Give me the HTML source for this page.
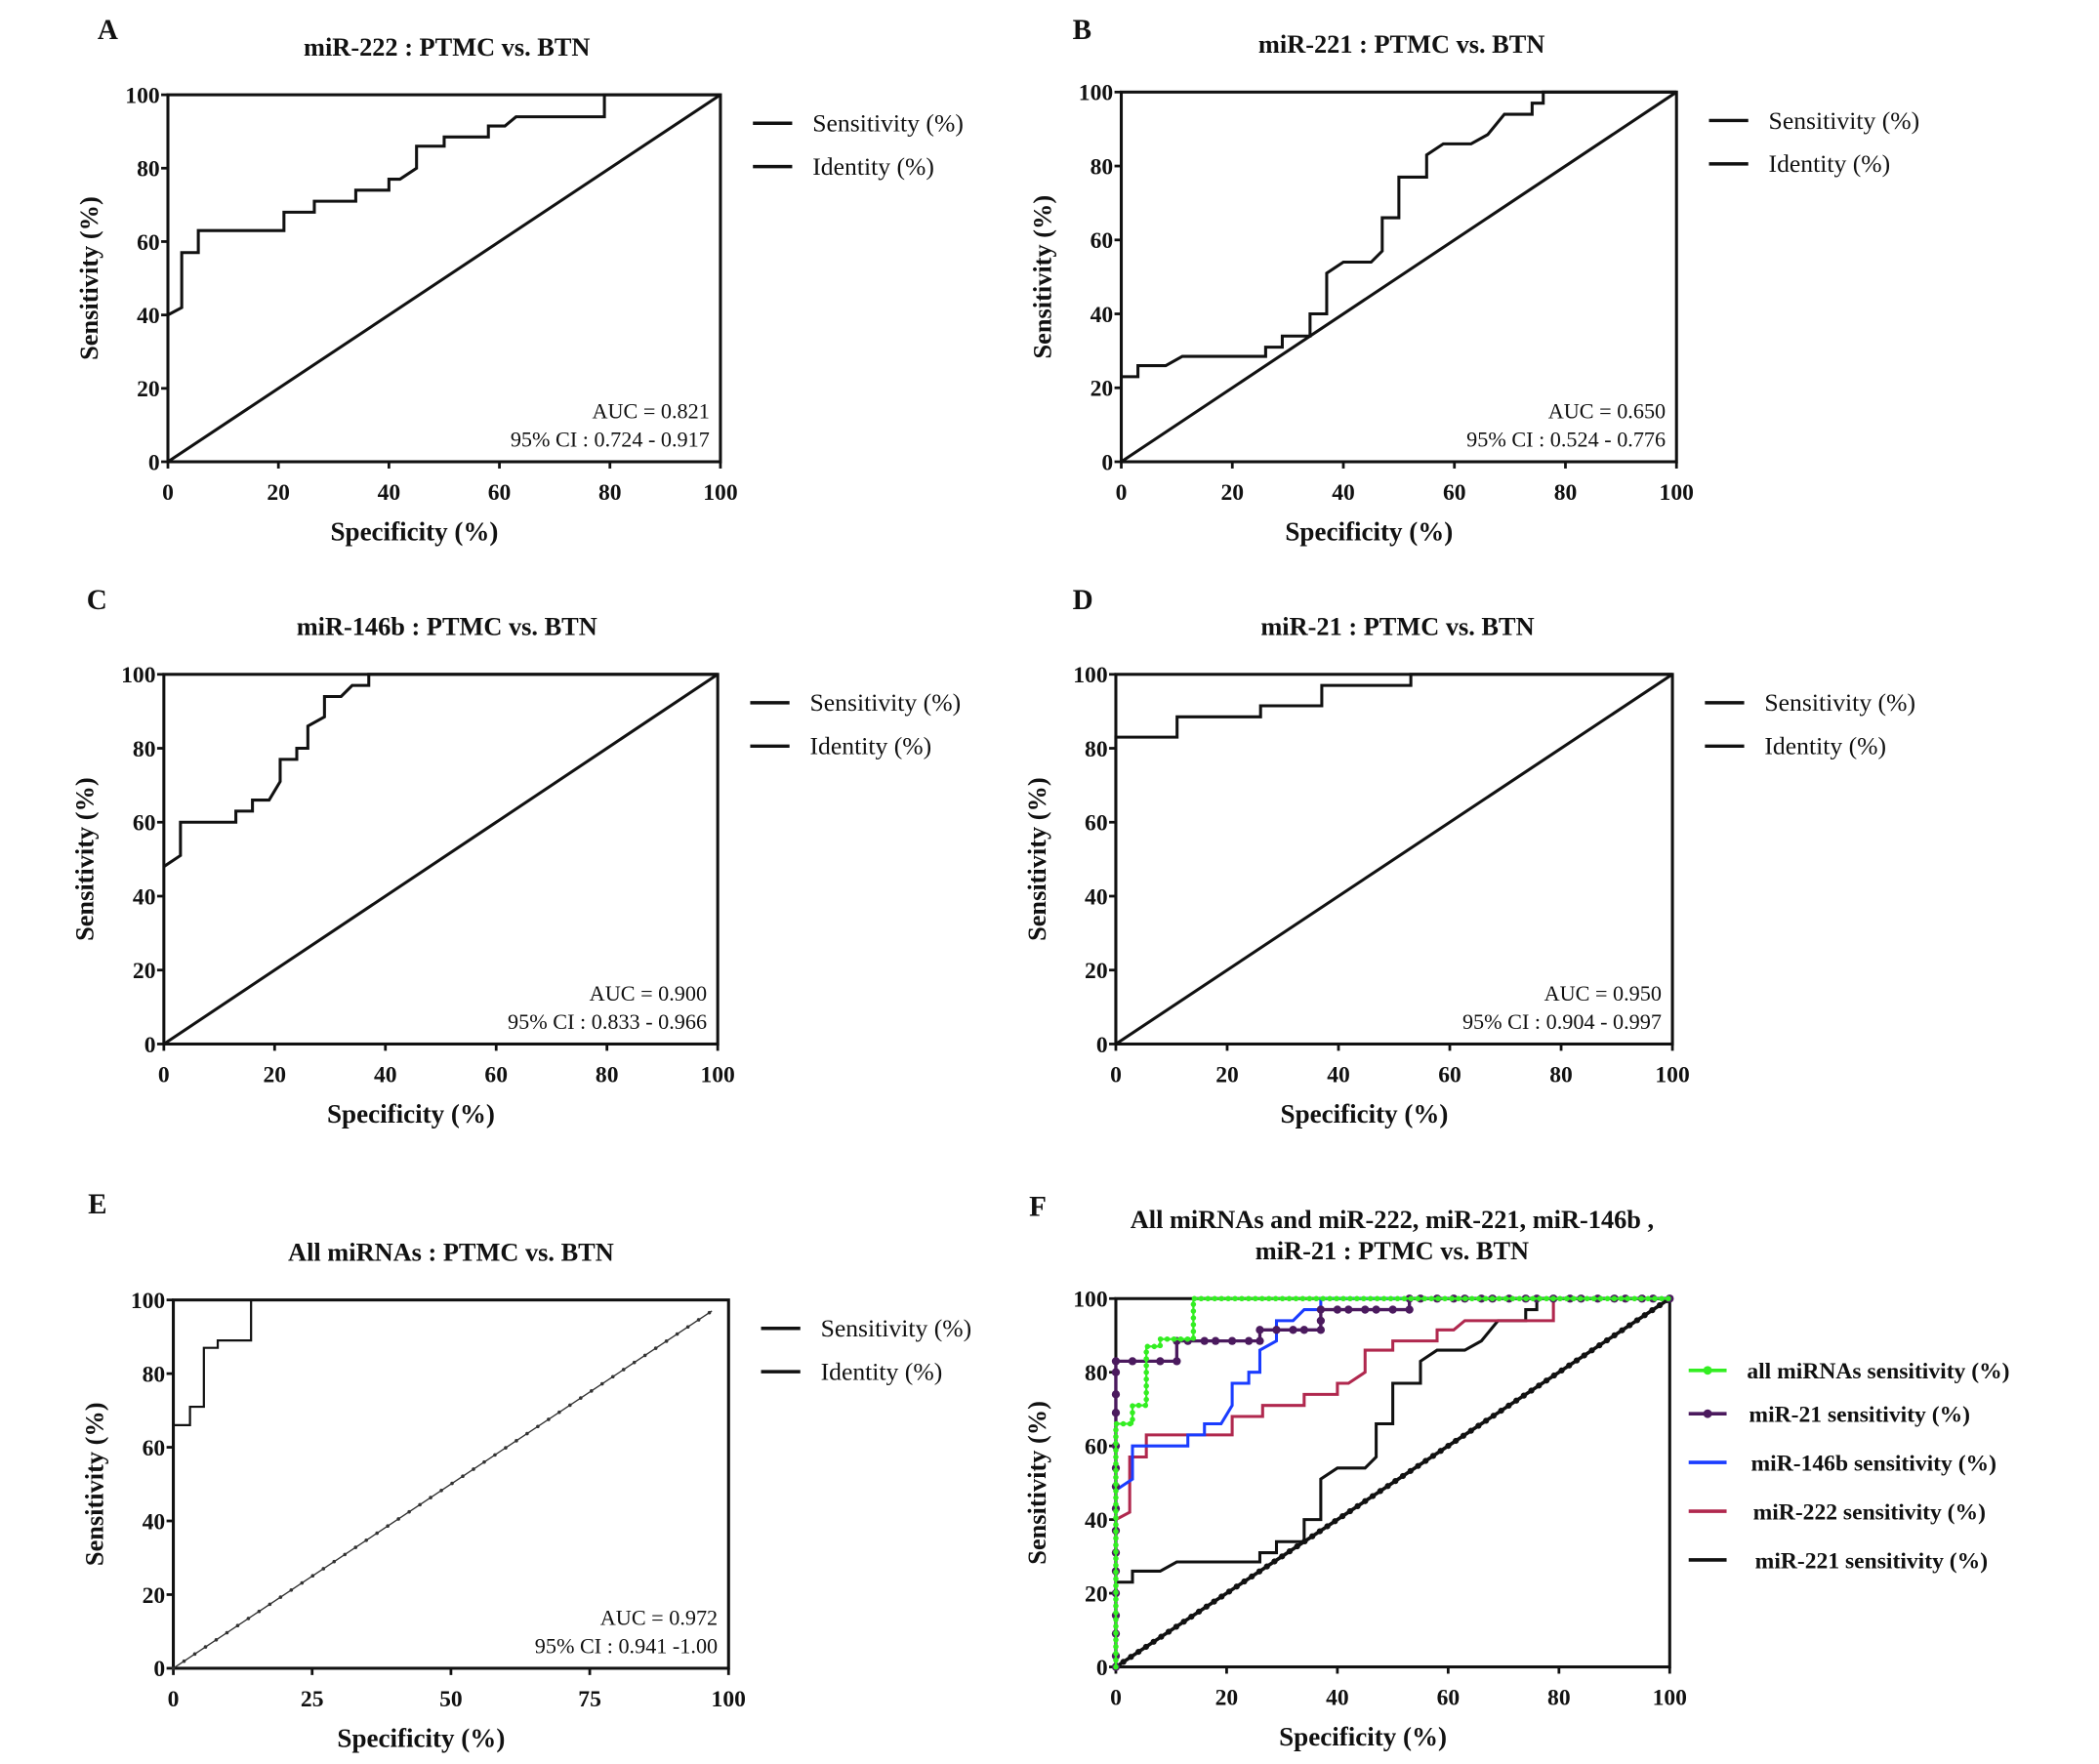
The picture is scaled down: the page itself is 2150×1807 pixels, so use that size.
<!DOCTYPE html>
<html><head><meta charset="utf-8"><style>
html,body{margin:0;padding:0;background:#fff}
svg{display:block}
text{font-family:"Liberation Serif",serif;fill:#111}
</style></head><body>
<svg id="fig" width="2150" height="1807" viewBox="0 0 1550 1302.7" preserveAspectRatio="none" xmlns="http://www.w3.org/2000/svg"></svg>
<script>
// ---- data (specificity %, sensitivity %) ----
const xTicks100 = [0,20,40,60,80,100];
const xTicksE = [0,25,50,75,100];
const yTicks = [0,20,40,60,80,100];
const mir222X = [0,2.5,2.5,5.5,5.5,21,21,26.5,26.5,34,34,40,40,42,45,45,50,50,58,58,61,63,79,79,100];
const mir222Y = [40,42,57,57,63,63,68,68,71,71,74,74,77,77,80,86,86,88.5,88.5,91.5,91.5,94,94,100,100];
const mir221X = [0,3,3,8,11,26,26,29,29,34,34,37,37,40,45,47,47,50,50,55,55,58,63,66,69,74,74,76,76,100];
const mir221Y = [23,23,26,26,28.5,28.5,31,31,34,34,40,40,51,54,54,57,66,66,77,77,83,86,86,88.5,94,94,97,97,100,100];
const mir146X = [0,3,3,13,13,16,16,19,21,21,24,24,26,26,29,29,32,34,37,37,100];
const mir146Y = [48,51,60,60,63,63,66,66,71,77,77,80,80,86,88.5,94,94,97,97,100,100];
const mir21X = [0,0,0,0,0,0,0,0,0,0,0,0,0,0,0,0,3,8,11,11,13,16,18,21,24,26,26,29,32,34,37,37,37,40,42,45,47,50,53,53,55,58,61,63,66,68,71,74,76,79,82,84,87,90,92,95,97,100];
const mir21Y = [0,3,9,14,20,26,31,37,43,49,54,60,69,74,80,83,83,83,83,88.5,88.5,88.5,88.5,88.5,88.5,88.5,91.5,91.5,91.5,91.5,91.5,94,97,97,97,97,97,97,97,100,100,100,100,100,100,100,100,100,100,100,100,100,100,100,100,100,100,100];
const allX = [0,0,3,3,5.5,5.5,8,8,14,14,100];
const allY = [0,66,66,71,71,87,87,89,89,100,100];
const diagX = [0,97];
const diagY = [0,97];
const diagFX = [0,100];
const diagFY = [0,100];

const svg = document.getElementById('fig');
const NS = 'http://www.w3.org/2000/svg';
function mk(tag, attrs, parent){const e=document.createElementNS(NS,tag);for(const k in attrs)e.setAttribute(k,attrs[k]);(parent||svg).appendChild(e);return e;}
function txt(s, attrs, parent){const e=mk('text',attrs,parent);e.textContent=s;return e;}

function axes(p){
  p.sx = v => p.x0 + v/100*(p.x1-p.x0);
  p.sy = v => p.y1 - v/100*(p.y1-p.y0);
  const g = mk('g',{});
  
  
  p.g = g;
  const lab = txt(p.letter,{x:p.lx,y:p.ly,'font-size':21,'font-weight':'bold'},g);
  
  
  p.title.forEach((t,i)=>{
    const tt = txt(t,{x:p.tx,y:p.ty+i*23,'font-size':19,'font-weight':'bold','text-anchor':'middle'},g);
    
    
  });
  const fr = mk('rect',{x:p.x0,y:p.y0,width:p.x1-p.x0,height:p.y1-p.y0,fill:'none',stroke:'#111','stroke-width':2.2},g);
  
  
  yTicks.forEach(v=>{
    mk('line',{x1:p.x0-5,x2:p.x0,y1:p.sy(v),y2:p.sy(v),stroke:'#111','stroke-width':2},g);
    const t = txt(String(v),{x:p.x0-6,y:p.sy(v)+6,'font-size':17,'font-weight':'bold','text-anchor':'end'},g);
    
    
  });
  p.xt.forEach(v=>{
    mk('line',{x1:p.sx(v),x2:p.sx(v),y1:p.y1,y2:p.y1+5,stroke:'#111','stroke-width':2},g);
    const t = txt(String(v),{x:p.sx(v),y:p.y1+28,'font-size':17,'font-weight':'bold','text-anchor':'middle'},g);
    
    
  });
  const xt = txt('Specificity (%)',{x:(p.x0+p.x1)/2-22,y:p.y1+58,'font-size':19.5,'font-weight':'bold','text-anchor':'middle'},g);
  
  
  const cy=(p.y0+p.y1)/2, cx=p.x0-52;
  const yt = txt('Sensitivity (%)',{x:cx,y:cy,'font-size':19,'font-weight':'bold','text-anchor':'middle',transform:'rotate(-90 '+cx+' '+cy+')'},g);
  
  
}
function curve(p, xs, ys, color, w, name){
  const d = xs.map((x,i)=>(i?'L':'M')+p.sx(x).toFixed(2)+' '+p.sy(ys[i]).toFixed(2)).join(' ');
  const e = mk('path',{d:d,fill:'none',stroke:color,'stroke-width':w,'stroke-linejoin':'miter'},p.g);
  
  
  return e;
}
function dots(p, xs, ys, color, r, name){
  xs.forEach((x,i)=>{
    const c = mk('circle',{cx:p.sx(x),cy:p.sy(ys[i]),r:r,fill:color},p.g);
    
    
  });
}
function legend(p){
  ['Sensitivity (%)','Identity (%)'].forEach((s,i)=>{
    const y = p.y0+21+i*32;
    const l = mk('line',{x1:p.x1+24,x2:p.x1+53,y1:y,y2:y,stroke:'#111','stroke-width':2.5},p.g);
    
    
    const t = txt(s,{x:p.x1+68,y:y+6,'font-size':18.5},p.g);
    
    
  });
}
function auc(p, a, ci){
  const t1 = txt(a,{x:p.x1-8,y:p.y1-32,'font-size':16,'text-anchor':'end'},p.g);
  
  
  const t2 = txt(ci,{x:p.x1-8,y:p.y1-11,'font-size':16,'text-anchor':'end'},p.g);
  
  
}

const A={id:'a',letter:'A',lx:72,ly:29,title:['miR-222 : PTMC vs. BTN'],tx:330,ty:41,x0:124,x1:532,y0:70,y1:341,xt:xTicks100};
const B={id:'b',letter:'B',lx:792,ly:29,title:['miR-221 : PTMC vs. BTN'],tx:1035,ty:39,x0:828,x1:1238,y0:68,y1:341,xt:xTicks100};
const C={id:'c',letter:'C',lx:64,ly:450,title:['miR-146b : PTMC vs. BTN'],tx:330,ty:469,x0:121,x1:530,y0:498,y1:771,xt:xTicks100};
const D={id:'d',letter:'D',lx:792,ly:450,title:['miR-21 : PTMC vs. BTN'],tx:1032,ty:469,x0:824,x1:1235,y0:498,y1:771,xt:xTicks100};
const E={id:'e',letter:'E',lx:65,ly:896,title:['All miRNAs : PTMC vs. BTN'],tx:333,ty:931,x0:128,x1:538,y0:960,y1:1232,xt:xTicksE};
const F={id:'f',letter:'F',lx:760,ly:898,title:['All miRNAs and miR-222,  miR-221, miR-146b ,','miR-21 : PTMC vs. BTN'],tx:1028,ty:907,x0:824,x1:1233,y0:959,y1:1231,xt:xTicks100};

[A,B,C,D,E].forEach(p=>{axes(p);legend(p);});
axes(F);

curve(A,mir222X,mir222Y,'#111',2.2,'a-sensitivity-curve'); curve(A,diagFX,diagFY,'#111',2.2,'a-identity-line');
auc(A,'AUC = 0.821','95% CI : 0.724 - 0.917');
curve(B,mir221X,mir221Y,'#111',2.2,'b-sensitivity-curve'); curve(B,diagFX,diagFY,'#111',2.2,'b-identity-line');
auc(B,'AUC = 0.650','95% CI : 0.524 - 0.776');
curve(C,mir146X,mir146Y,'#111',2.2,'c-sensitivity-curve'); curve(C,diagFX,diagFY,'#111',2.2,'c-identity-line');
auc(C,'AUC = 0.900','95% CI : 0.833 - 0.966');
curve(D,mir21X,mir21Y,'#111',2.2,'d-sensitivity-curve'); curve(D,diagFX,diagFY,'#111',2.2,'d-identity-line');
auc(D,'AUC = 0.950','95% CI : 0.904 - 0.997');
curve(E,allX,allY,'#111',1.6,'e-sensitivity-curve');
const ed = curve(E,diagX,diagY,'#333',1,'e-identity-line');
const ed2 = curve(E,diagX,diagY,'#333',2.6,'e-identity-markers'); ed2.setAttribute('stroke-dasharray','0 9.5'); ed2.setAttribute('stroke-linecap','round');
auc(E,'AUC = 0.972','95% CI : 0.941 -1.00');

// F
const fd = curve(F,diagFX,diagFY,'#111',2.6,'f-identity-line');
const fd2 = curve(F,diagFX,diagFY,'#111',4.5,'f-identity-markers'); fd2.setAttribute('stroke-dasharray','0 6.7'); fd2.setAttribute('stroke-linecap','round');
curve(F,mir221X,mir221Y,'#111',2.2,'f-mir221-curve');
curve(F,mir222X,mir222Y,'#b0284e',2.2,'f-mir222-curve');
curve(F,mir146X,mir146Y,'#1a3cff',2.2,'f-mir146b-curve');
curve(F,mir21X,mir21Y,'#4b1a5e',2.4,'f-mir21-curve');
dots(F,mir21X,mir21Y,'#4b1a5e',3,'f-mir21-marker');
curve(F,allX,allY,'#33ee22',1.6,'f-all-curve');
const fa = curve(F,allX,allY,'#33ee22',4,'f-all-markers'); fa.setAttribute('stroke-dasharray','0 5'); fa.setAttribute('stroke-linecap','round');

const legF=[['all miRNAs sensitivity (%)','#33ee22',1012],['miR-21 sensitivity (%)','#4b1a5e',1044],['miR-146b sensitivity (%)','#1a3cff',1080],['miR-222 sensitivity (%)','#b0284e',1116],['miR-221 sensitivity (%)','#111',1152]];
legF.forEach((l,i)=>{
  const ln = mk('line',{x1:1247,x2:1275,y1:l[2],y2:l[2],stroke:l[1],'stroke-width':2.6},F.g);
  
  
  if(i<2){const c=mk('circle',{cx:1261,cy:l[2],r:3.2,fill:l[1]},F.g);
    
    }
  const t = txt(l[0],{x:1290+i*1.5,y:l[2]+6,'font-size':17,'font-weight':'bold'},F.g);
  
  
});
</script>
</body></html>
